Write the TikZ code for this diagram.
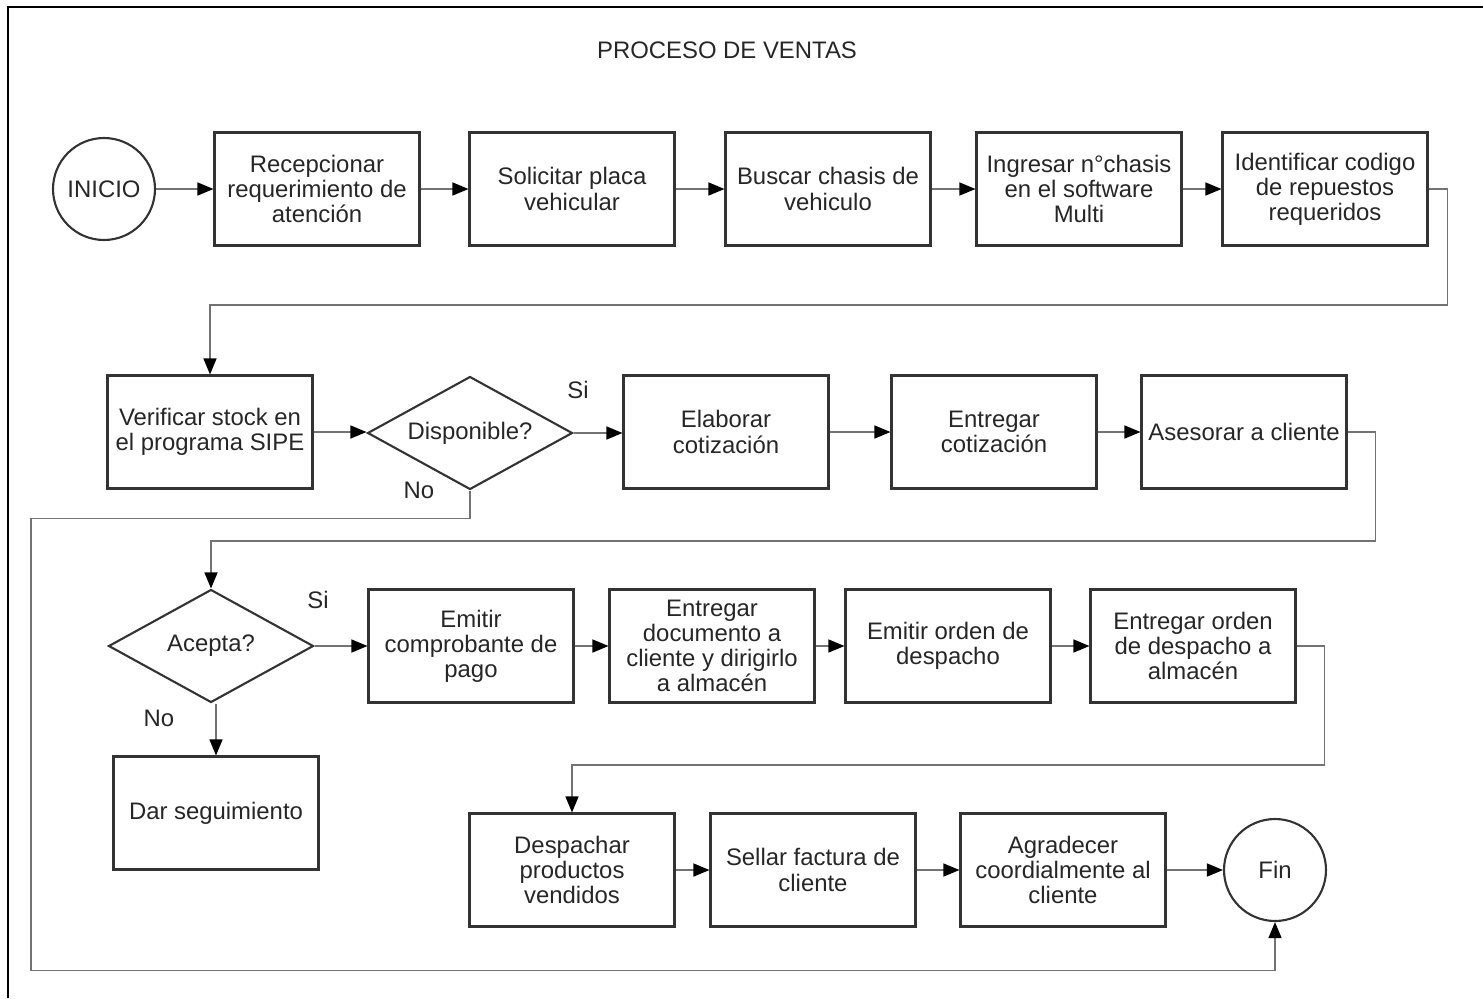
\documentclass[tikz,border=0pt]{standalone}
\usepackage{fontspec}
\setmainfont{Liberation Sans}
\usetikzlibrary{shapes.geometric,arrows.meta}

\begin{document}
\begin{tikzpicture}[x=0.02cm, y=-0.02cm,
    every node/.style={font=\fontsize{13.6}{14.3}\selectfont, text=black!85},
    proc/.style={draw=black!80, line width=1.2pt, minimum width=4.1cm, minimum height=2.26cm, align=center, inner sep=1pt},
    term/.style={draw=black!80, line width=1.2pt, circle, minimum size=2.04cm, inner sep=0pt},
    decis/.style={draw=black!80, line width=1.2pt, diamond, minimum width=4.1cm, minimum height=2.26cm, inner sep=0pt},
    conn/.style={draw=black!55, line width=0.8pt, -{Triangle[length=0.32cm, width=0.26cm, color=black, fill=black]}}]
	\useasboundingbox (0,0) rectangle (1483,998);
	\draw[line width=1.3pt] (8,998) -- (8,7) -- (1483,7);
	\node (titulo) at (727,50) {PROCESO DE VENTAS};
	\node[term] (inicio) at (104,189) {INICIO};
	\node[proc] (recep) at (317,189) {Recepcionar\\requerimiento de\\atención};
	\node[proc] (placa) at (572,189) {Solicitar placa\\vehicular};
	\node[proc] (chasis) at (828,189) {Buscar chasis de\\vehiculo};
	\node[proc] (multi) at (1079,189) {Ingresar n°chasis\\en el software\\Multi};
	\node[proc] (codigo) at (1325,189) {Identificar codigo\\de repuestos\\requeridos};
	\node[proc] (stock) at (210,432) {Verificar stock en\\el programa SIPE};
	\node[decis] (disp) at (470,433) {\makebox[0pt]{Disponible?}};
	\node[proc] (elab) at (726,432) {Elaborar\\cotización};
	\node[proc] (entcot) at (994,432) {Entregar\\cotización};
	\node[proc] (asesor) at (1244,432) {Asesorar a cliente};
	\node[decis] (acepta) at (211,646) {\makebox[0pt]{Acepta?}};
	\node[proc] (compr) at (471,646) {Emitir\\comprobante de\\pago};
	\node[proc] (docum) at (712,646) {Entregar\\documento a\\cliente y dirigirlo\\a almacén};
	\node[proc] (orden) at (948,646) {Emitir orden de\\despacho};
	\node[proc] (almac) at (1193,646) {Entregar orden\\de despacho a\\almacén};
	\node[proc] (segui) at (216,813) {Dar seguimiento};
	\node[proc] (desp) at (572,870) {Despachar\\productos\\vendidos};
	\node[proc] (sellar) at (813,870) {Sellar factura de\\cliente};
	\node[proc] (agrad) at (1063,870) {Agradecer\\coordialmente al\\cliente};
	\node[term] (fin) at (1275,870) {Fin};
	\node (si1) at (578,390) {Si};
	\node (no1) at (419,490) {No};
	\node (si2) at (318,600) {Si};
	\node (no2) at (159,718) {No};
	\foreach \a/\b in {inicio/recep, recep/placa, placa/chasis, chasis/multi, multi/codigo, stock/disp, disp/elab, elab/entcot, entcot/asesor, acepta/compr, compr/docum, docum/orden, orden/almac, desp/sellar, sellar/agrad, agrad/fin}
		\draw[conn] (\a.east) -- (\a.east -| \b.west);
	\draw[conn] (codigo.east) -- ++(19,0) -- ++(0,116) -| (stock.north);
	\draw[conn] (asesor.east) -- ++(28,0) -- ++(0,109) -| (acepta.north);
	\draw[conn] (almac.east) -- ++(28,0) -- ++(0,119) -| (desp.north);
	\draw[conn] (disp.south) -- ++(0,28) -- ++(-439,0) -- ++(0,452) -| (fin.south);
	\draw[conn] (acepta.south -| segui.north) -- (segui.north);
\end{tikzpicture}
\end{document}
